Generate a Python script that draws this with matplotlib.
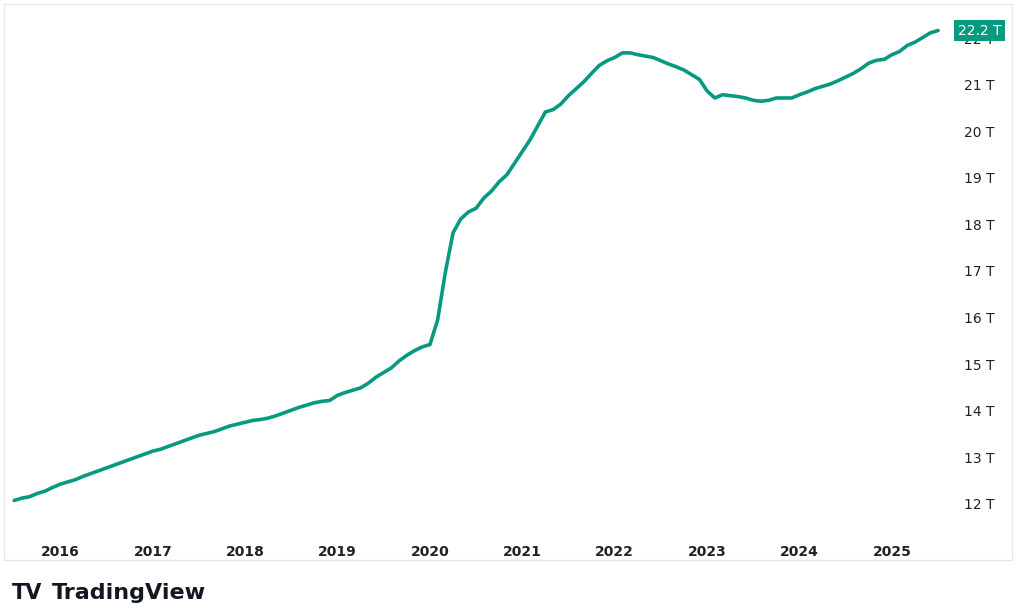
import numpy as np
import matplotlib.pyplot as plt

# monthly M2, trillions, Jul 2015 .. Aug 2025
start_year = 2015.5
m2_2015 = [12.10, 12.15, 12.18, 12.25, 12.30, 12.38]
m2_2016 = [12.45, 12.50, 12.55, 12.62, 12.68, 12.74, 12.80, 12.86, 12.92, 12.98, 13.04, 13.10]
m2_2017 = [13.16, 13.20, 13.26, 13.32, 13.38, 13.44, 13.50, 13.54, 13.58, 13.64, 13.70, 13.74]
m2_2018 = [13.78, 13.82, 13.84, 13.87, 13.92, 13.98, 14.04, 14.10, 14.15, 14.20, 14.23, 14.25]
m2_2019 = [14.36, 14.42, 14.47, 14.52, 14.62, 14.75, 14.85, 14.95, 15.10, 15.22, 15.32]
m2_2020 = [15.40, 15.45, 15.98, 17.00, 17.85, 18.15, 18.30, 18.38, 18.60, 18.75, 18.95, 19.10]
m2_2021 = [19.35, 19.60, 19.85, 20.15, 20.45, 20.50, 20.62, 20.80, 20.95, 21.10, 21.28, 21.45]
m2_2022 = [21.55, 21.62, 21.72, 21.72, 21.68, 21.65, 21.62, 21.55, 21.48, 21.42, 21.35, 21.25]
m2_2023 = [21.15, 20.90, 20.75, 20.82, 20.80, 20.78, 20.75, 20.70, 20.68, 20.70, 20.75, 20.75]
m2_2024 = [20.75, 20.82, 20.88, 20.95, 21.00, 21.05, 21.12, 21.20, 21.28, 21.38, 21.50, 21.56]
m2_2025 = [21.58, 21.68, 21.75, 21.88, 21.95, 22.05, 22.15, 22.20]
m2 = (m2_2015 + m2_2016 + m2_2017 + m2_2018 + m2_2019 + m2_2020 + m2_2021
      + m2_2022 + m2_2023 + m2_2024 + m2_2025)
year_ticks = list(range(2016, 2026))
price_ticks = list(range(12, 23))

green = "#089981"
t = start_year + np.arange(len(m2)) / 12.0

fig = plt.figure(figsize=(10.24, 6.12), dpi=100)
ax = fig.add_axes([4 / 1024, 1 - 560 / 612, 1008 / 1024, 556 / 612])
ax.plot(t, m2, color=green, lw=2.6, solid_capstyle="round")
ax.set_xlim(2015.39, 2026.3)
ax.set_ylim(10.82, 22.77)
ax.set_xticks([])
ax.set_yticks([])
for s in ax.spines.values():
    s.set_color("#e6e6e6")
    s.set_linewidth(1)

for y in year_ticks:
    ax.text(y, 10.99, str(y), ha="center", va="center", fontsize=10,
            fontweight="bold", color="#222222")
for p in price_ticks:
    ax.text(2025.95, p, f"{p} T", ha="center", va="center", fontsize=10, color="#222222")
ax.text(2025.95, 22.2, "22.2 T", ha="center", va="center", fontsize=10, color="white",
        bbox=dict(boxstyle="square,pad=0.25", fc=green, ec="none"))

fig.text(12 / 1024, 1 - 593 / 612, "TV", fontsize=15, fontweight="bold", va="center",
         color="#131722")
fig.text(52 / 1024, 1 - 593 / 612, "TradingView", fontsize=16, fontweight="bold",
         va="center", color="#131722")

fig.savefig("out.png", dpi=100)
